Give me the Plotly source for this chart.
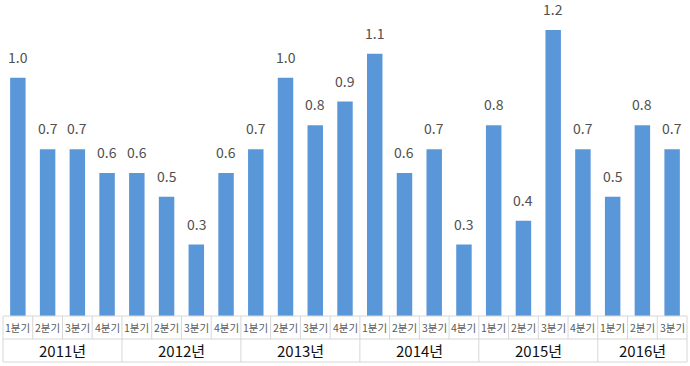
import plotly.graph_objects as go

years = ["2011년", "2012년", "2013년", "2014년", "2015년", "2016년"]
quarters_per_year = [4, 4, 4, 4, 4, 3]
quarter_labels = ["1분기", "2분기", "3분기", "4분기"]
values = [1.0, 0.7, 0.7, 0.6,
          0.6, 0.5, 0.3, 0.6,
          0.7, 1.0, 0.8, 0.9,
          1.1, 0.6, 0.7, 0.3,
          0.8, 0.4, 1.2, 0.7,
          0.5, 0.8, 0.7]

qlabs = []
for n in quarters_per_year:
    qlabs.extend(quarter_labels[:n])

N = len(values)
idx = list(range(N))
FONT = "Noto Sans CJK KR"
LINE = "#d6d6d6"
PLOT_H = 316
ROW1 = 23
ROW2 = 46

fig = go.Figure(go.Bar(
    x=idx, y=values,
    marker=dict(color="#5a97d8", line=dict(width=0)),
    hoverinfo="skip",
))

annotations = []
shapes = []
# value labels above bars
for i, v in enumerate(values):
    annotations.append(dict(x=i, y=v, xref="x", yref="y", text=f"{v:.1f}", showarrow=False,
                            yanchor="bottom", yshift=9,
                            font=dict(size=14, color="#505050", family=FONT)))
# quarter labels
for i, lab in enumerate(qlabs):
    annotations.append(dict(x=i, y=0, xref="x", yref="y", text=lab, showarrow=False,
                            yshift=-ROW1 / 2, font=dict(size=10.5, color="#595959", family=FONT)))
# year labels
start = 0
bounds = [0]
for y, n in zip(years, quarters_per_year):
    center = start + (n - 1) / 2
    annotations.append(dict(x=center, y=0, xref="x", yref="y", text=y, showarrow=False,
                            yshift=-(ROW1 + (ROW2 - ROW1) / 2),
                            font=dict(size=15, color="#111111", family=FONT)))
    start += n
    bounds.append(start)

r1 = -ROW1 / PLOT_H
r2 = -ROW2 / PLOT_H
# vertical dividers between quarter cells
for i in range(N + 1):
    shapes.append(dict(type="line", xref="paper", yref="paper", x0=i / N, x1=i / N,
                       y0=0, y1=r1, line=dict(color=LINE, width=1)))
# vertical dividers between years
for b in bounds:
    shapes.append(dict(type="line", xref="paper", yref="paper", x0=b / N, x1=b / N,
                       y0=r1, y1=r2, line=dict(color=LINE, width=1)))
# horizontal lines
for yy in [0, r1, r2]:
    shapes.append(dict(type="line", xref="paper", yref="paper", x0=0, x1=1,
                       y0=yy, y1=yy, line=dict(color=LINE, width=1)))

fig.update_layout(
    width=690, height=366,
    margin=dict(l=3, r=3, t=0, b=50),
    plot_bgcolor="white", paper_bgcolor="white",
    bargap=0.48,
    showlegend=False,
    xaxis=dict(range=[-0.5, N - 0.5], showticklabels=False, showgrid=False,
               zeroline=False, showline=False, ticks=""),
    yaxis=dict(range=[0, 1.326], showticklabels=False, showgrid=False, zeroline=False,
               showline=False, ticks=""),
    annotations=annotations,
    shapes=shapes,
    font=dict(family=FONT),
)

fig.write_html("out.html", config={"displayModeBar": False, "staticPlot": True},
               post_script="document.body.style.margin='0';document.body.style.overflow='hidden';")
